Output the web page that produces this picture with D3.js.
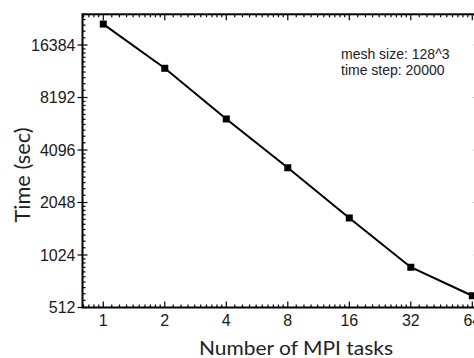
<!DOCTYPE html>
<html>
<head>
<meta charset="utf-8">
<script src="https://cdn.jsdelivr.net/npm/d3@7"></script>
<style>
  body { margin: 0; background: #fff; }
  svg { display: block; }
</style>
</head>
<body>
<div id="chart"></div>
<script>
// data
const tasks = [1, 2, 4, 8, 16, 32, 64];
const times = [21600, 12050, 6170, 3240, 1670, 871, 598];
const xTickValues = [1, 2, 4, 8, 16, 32, 64];
const yTickValues = [512, 1024, 2048, 4096, 8192, 16384];
const notes = ["mesh size: 128^3", "time step: 20000"];

const width = 474, height = 358;
const margin = {top: 14.3, right: -5, bottom: 50.5, left: 82.5};

const svg = d3.select("#chart").append("svg")
    .attr("width", width)
    .attr("height", height);

const x = d3.scaleLog().base(2)
    .domain([Math.pow(2, -0.338), Math.pow(2, 6.109)])
    .range([margin.left, width - margin.right]);
const y = d3.scaleLog().base(2)
    .domain([512, Math.pow(2, 14.585)])
    .range([height - margin.bottom, margin.top]);

// minor ticks at 2^k * (1 + i/10)
function minorTicks(scale) {
    const [d0, d1] = scale.domain();
    const out = [];
    for (let k = -2; k <= 15; k++) {
        for (let i = 1; i <= 9; i++) {
            const v = Math.pow(2, k) * (1 + i / 10);
            if (v > d0 && v < d1) out.push(v);
        }
    }
    return out;
}
const xMinor = minorTicks(x);
const yMinor = minorTicks(y);

const x0 = x.range()[0], x1 = x.range()[1];
const y0 = y.range()[0], y1 = y.range()[1];

const ticks = svg.append("g").attr("stroke", "#000").attr("stroke-width", 1.2);

// bottom & top ticks (inward)
ticks.selectAll(".xminB").data(xMinor).join("line")
    .attr("x1", d => x(d)).attr("x2", d => x(d))
    .attr("y1", y0).attr("y2", y0 - 3);
ticks.selectAll(".xminT").data(xMinor).join("line")
    .attr("x1", d => x(d)).attr("x2", d => x(d))
    .attr("y1", y1).attr("y2", y1 + 3);
ticks.selectAll(".xmajB").data(xTickValues).join("line")
    .attr("x1", d => x(d)).attr("x2", d => x(d))
    .attr("y1", y0).attr("y2", y0 - 6);
ticks.selectAll(".xmajT").data(xTickValues).join("line")
    .attr("x1", d => x(d)).attr("x2", d => x(d))
    .attr("y1", y1).attr("y2", y1 + 6);

// left & right ticks
ticks.selectAll(".yminL").data(yMinor).join("line")
    .attr("x1", x0).attr("x2", x0 + 3)
    .attr("y1", d => y(d)).attr("y2", d => y(d));
ticks.selectAll(".yminR").data(yMinor).join("line")
    .attr("x1", x1).attr("x2", x1 - 3)
    .attr("y1", d => y(d)).attr("y2", d => y(d));
ticks.selectAll(".ymajL").data(yTickValues).join("line")
    .attr("x1", x0 - 5).attr("x2", x0 + 5)
    .attr("y1", d => y(d)).attr("y2", d => y(d));
ticks.selectAll(".ymajR").data(yTickValues).join("line")
    .attr("x1", x1).attr("x2", x1 - 6)
    .attr("y1", d => y(d)).attr("y2", d => y(d))
    .attr("stroke", "#bbb");

// frame
svg.append("rect")
    .attr("x", x0).attr("y", y1)
    .attr("width", x1 - x0).attr("height", y0 - y1)
    .attr("fill", "none")
    .attr("stroke", "#000")
    .attr("stroke-width", 2);

// tick labels
svg.append("g")
    .attr("font-family", "'Liberation Sans', Arial, sans-serif")
    .attr("font-size", 16)
    .attr("fill", "#1a1a1a")
    .selectAll("text").data(xTickValues).join("text")
    .attr("x", d => x(d))
    .attr("y", y0 + 18)
    .attr("text-anchor", "middle")
    .text(d => d);

svg.append("g")
    .attr("font-family", "'Liberation Sans', Arial, sans-serif")
    .attr("font-size", 16)
    .attr("fill", "#1a1a1a")
    .selectAll("text").data(yTickValues).join("text")
    .attr("x", x0 - 7)
    .attr("y", d => y(d))
    .attr("dy", "0.35em")
    .attr("text-anchor", "end")
    .text(d => d);

// line and markers
const line = d3.line()
    .x((d, i) => x(tasks[i]))
    .y(d => y(d));

svg.append("path")
    .datum(times)
    .attr("fill", "none")
    .attr("stroke", "#000")
    .attr("stroke-width", 2)
    .attr("d", line);

svg.selectAll(".pt").data(times).join("rect")
    .attr("x", (d, i) => x(tasks[i]) - 3.5)
    .attr("y", d => y(d) - 3.5)
    .attr("width", 7).attr("height", 7)
    .attr("fill", "#000");

// annotation
svg.append("g")
    .attr("font-family", "'Liberation Sans', Arial, sans-serif")
    .attr("font-size", 14)
    .attr("fill", "#222")
    .selectAll("text").data(notes).join("text")
    .attr("x", 341)
    .attr("y", (d, i) => 59 + i * 16)
    .text(d => d);

// axis titles
svg.append("text")
    .attr("x", 296)
    .attr("y", 355)
    .attr("text-anchor", "middle")
    .attr("font-family", "Lato, 'Noto Sans', sans-serif")
    .attr("font-size", 20)
    .attr("textLength", 194)
    .attr("lengthAdjust", "spacingAndGlyphs")
    .attr("fill", "#222")
    .text("Number of MPI tasks");

svg.append("text")
    .attr("transform", "translate(30,175) rotate(-90)")
    .attr("text-anchor", "middle")
    .attr("font-family", "Lato, 'Noto Sans', sans-serif")
    .attr("font-size", 21)
    .attr("textLength", 95)
    .attr("lengthAdjust", "spacingAndGlyphs")
    .attr("fill", "#222")
    .text("Time (sec)");
</script>
</body>
</html>
